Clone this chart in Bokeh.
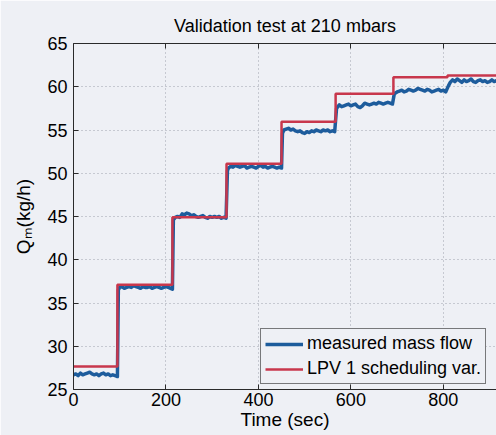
from bokeh.plotting import figure
from bokeh.models import (Range1d, FixedTicker, LinearAxis, Legend,
                          CustomJSTickFormatter)
from bokeh.embed import file_html
from bokeh.resources import INLINE

# ---------------- data ----------------
x_ticks = [0, 200, 400, 600, 800]
y_ticks = [25, 30, 35, 40, 45, 50, 55, 60, 65]

# LPV scheduling variable: step start times and levels
step_times = [0, 95, 214, 331, 450, 567, 692, 809, 920]
lpv_levels = [27.65, 37.1, 44.9, 51.1, 55.95, 59.2, 61.1, 61.3]

# measured mass flow
meas_t = [0, 5, 10, 15, 20, 25, 30, 35, 40, 45, 50, 55, 60, 65, 70, 75, 80, 85, 90, 95,
          97, 100, 105, 110, 115, 120, 125, 130, 135, 140, 145, 150, 155, 160, 165, 170,
          175, 180, 185, 190, 195, 200, 205, 210, 214,
          216, 220, 225, 230, 235, 240, 245, 250, 255, 260, 265, 270, 275, 280, 285, 290,
          295, 300, 305, 310, 315, 320, 325, 330,
          333, 335, 340, 345, 350, 355, 360, 365, 370, 375, 380, 385, 390, 395, 400, 405,
          410, 415, 420, 425, 430, 435, 440, 445, 450,
          452, 455, 460, 465, 470, 475, 480, 485, 490, 495, 500, 505, 510, 515, 520, 525,
          530, 535, 540, 545, 550, 555, 560, 565,
          569, 575, 580, 585, 590, 595, 600, 605, 610, 615, 620, 625, 630, 635, 640, 645,
          650, 655, 660, 665, 670, 675, 680, 685, 690,
          694, 700, 705, 710, 715, 720, 725, 730, 735, 740, 745, 750, 755, 760, 765, 770,
          775, 780, 785, 790, 795, 800, 805,
          811, 815, 820, 825, 830, 835, 840, 845, 850, 855, 860, 865, 870, 875, 880, 885,
          890, 895, 900, 905, 910, 915]
meas_q = [26.7, 26.8, 26.6, 26.9, 26.7, 26.8, 26.9, 27.0, 26.8, 26.7, 26.8, 26.6, 26.8,
          26.9, 26.7, 26.8, 26.6, 26.7, 26.6, 26.5,
          36.5, 36.8, 36.9, 36.7, 36.8, 36.9, 36.8, 37.0, 36.9, 36.8, 36.7, 36.9, 36.8,
          36.8, 36.9, 36.7, 36.8, 36.9, 36.8, 36.7, 36.8, 36.9, 36.8, 36.7, 36.6,
          44.6, 44.9, 45.0, 44.9, 45.3, 45.2, 45.4, 45.3, 45.1, 45.2, 45.0, 44.9, 45.0,
          45.1, 44.9, 44.8, 45.0, 44.9, 45.0, 44.9, 45.0, 44.8, 44.9, 44.8,
          50.3, 50.6, 50.8, 50.7, 50.9, 50.8, 50.7, 50.8, 50.9, 50.6, 50.7, 50.8, 50.7,
          50.6, 50.8, 50.9, 50.7, 50.8, 50.6, 50.7, 50.8, 50.7, 50.6, 50.7, 50.6,
          54.6, 55.0, 55.1, 55.2, 55.0, 55.1, 54.9, 54.8, 54.9, 54.7, 54.6, 54.8, 54.7,
          54.9, 54.8, 55.0, 54.9, 54.8, 55.0, 54.9, 55.0, 54.8, 54.9, 54.8,
          57.5, 57.9, 57.7, 57.8, 57.9, 58.0, 57.8, 57.9, 58.0, 57.7, 57.6, 57.8, 58.1,
          58.0, 57.9, 58.0, 58.1, 58.0, 58.2, 58.1, 58.0, 58.1, 58.2, 58.1, 58.0,
          59.2, 59.4, 59.5, 59.6, 59.4, 59.5, 59.7, 59.6, 59.5, 59.6, 59.8, 59.7, 59.6,
          59.5, 59.7, 59.6, 59.4, 59.5, 59.6, 59.7, 59.5, 59.6, 59.4,
          60.1, 60.5, 60.8, 60.6, 60.9, 60.7, 60.5, 60.8, 60.6, 60.7, 60.9, 60.6, 60.5,
          60.7, 60.8, 60.6, 60.7, 60.5, 60.6, 60.8, 60.6, 60.7]

title_text = "Validation test at 210 mbars"
x_label = "Time (sec)"
y_label = "Qₘ(kg/h)"
series_names = ["measured mass flow", "LPV 1 scheduling var."]

# ---------------- style ----------------
BG = "#eef0f5"
BLUE = "#1d5c9c"
RED = "#c8374c"
AX = "#2a2a2a"
FONT = "Liberation Sans"

p = figure(width=496, height=435, output_backend="svg", toolbar_location=None,
           x_range=Range1d(0, 915), y_range=Range1d(25, 65),
           min_border_left=73, min_border_right=0, min_border_top=43,
           min_border_bottom=46, title=title_text,
           background_fill_color=BG, border_fill_color=BG, outline_line_color=None)

p.title.text_font = FONT
p.title.text_font_size = "18px"
p.title.text_font_style = "normal"
p.title.text_color = "black"
p.title.align = "center"
p.title.standoff = 16

bottom = p.below[0]
left = p.left[0]
bottom.ticker = FixedTicker(ticks=x_ticks)
left.ticker = FixedTicker(ticks=y_ticks)

top = LinearAxis(ticker=FixedTicker(ticks=x_ticks),
                 formatter=CustomJSTickFormatter(code="return ''"))
p.add_layout(top, "above")

for ax in [bottom, left, top]:
    ax.axis_line_color = AX
    ax.axis_line_width = 1
    ax.major_tick_line_color = AX
    ax.major_tick_in = 5
    ax.major_tick_out = 0
    ax.minor_tick_line_color = None
    ax.major_label_text_font = FONT
    ax.major_label_text_font_size = "18px"
    ax.major_label_text_color = "black"
    ax.axis_label_text_font = FONT
    ax.axis_label_text_font_style = "normal"
    ax.axis_label_text_color = "black"
    ax.axis_label_text_font_size = "19px"

bottom.major_label_standoff = 3
bottom.axis_label = x_label
bottom.axis_label_standoff = 0
left.major_label_standoff = 6
left.axis_label = y_label
left.axis_label_standoff = 10
top.major_label_standoff = 0
top.major_label_text_font_size = "1px"

p.grid.grid_line_color = "#9ea3ad"
p.grid.grid_line_dash = "1 3"
p.grid.grid_line_alpha = 1.0

r_meas = p.line(meas_t, meas_q, line_color=BLUE, line_width=3.5, line_join="round")
r_lpv = p.step(step_times, lpv_levels + [lpv_levels[-1]], mode="after",
               line_color=RED, line_width=2.5)

legend = Legend(items=[(series_names[0], [r_meas]), (series_names[1], [r_lpv])],
                location=(187, 5))
legend.border_line_color = "black"
legend.border_line_width = 1
legend.background_fill_color = BG
legend.background_fill_alpha = 1.0
legend.label_text_font = FONT
legend.label_text_font_size = "18px"
legend.label_text_color = "black"
legend.glyph_width = 38
legend.glyph_height = 20
legend.label_height = 20
legend.spacing = 4
legend.padding = 4
legend.margin = 0
legend.label_standoff = 4
p.add_layout(legend)

open("out.html", "w").write(file_html(p, INLINE))
